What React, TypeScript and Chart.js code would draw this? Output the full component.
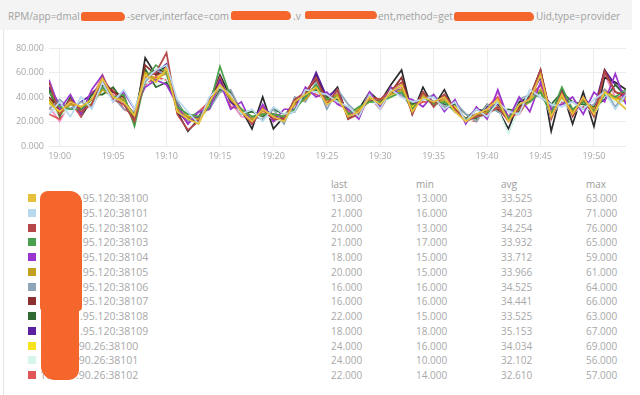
import React, { useEffect, useRef } from "react";
import { Chart, registerables } from "chart.js";
Chart.register(...registerables);

const timeLabels = ["18:59","19:00","19:01","19:02","19:03","19:04","19:05","19:06","19:07","19:08","19:09","19:10","19:11","19:12","19:13","19:14","19:15","19:16","19:17","19:18","19:19","19:20","19:21","19:22","19:23","19:24","19:25","19:26","19:27","19:28","19:29","19:30","19:31","19:32","19:33","19:34","19:35","19:36","19:37","19:38","19:39","19:40","19:41","19:42","19:43","19:44","19:45","19:46","19:47","19:48","19:49","19:50","19:51","19:52","19:53"];

const s1 = [35,28,36,32,38,55,40,36,25,58,52, 63,28,22,18,36,50,40,28,20,30,24, 20,36,42,48,34,40,24,28,40,34,44, 50,28,40,36,40,28,20,26,30,38,20, 34,38,58,24,42,26,40,26,44,38,30];
const s2 = [26,36,24,40,30,52,36,46,30,54,62, 66,38,28,18,40,48,42,26,30,20,32, 26,28,46,44,42,36,32,24,42,30,46, 40,36,38,40,30,36,20,30,24,36,28, 26,46,40,34,32,36,30,38,44,30,42];
const s3 = [52,26,38,28,34,56,38,34,20,56,60, 76,26,13,20,38,48,42,28,18,30,22, 22,38,44,56,34,46,22,26,40,38,46, 52,26,44,32,42,30,20,24,26,32,20, 30,40,62,22,44,24,40,24,60,44,42];
const s4 = [44,32,30,30,38,48,40,42,16,54,66, 60,32,26,24,32,65,40,30,24,26,26, 24,30,40,50,38,40,26,32,36,36,40, 44,30,40,34,36,28,22,24,26,36,22, 34,36,44,26,48,30,36,28,42,40,46];
const s5 = [54,30,42,26,46,58,36,44,30,48,54, 50,34,18,28,30,52,30,36,18,34,20, 30,30,48,40,44,34,30,22,44,32,48, 40,38,32,42,28,38,18,32,22,46,22, 40,28,52,30,34,40,26,44,36,59,34];
const s6 = [38,26,34,32,34,46,40,38,24,60,54, 60,30,24,22,32,50,38,30,22,26,26, 24,34,38,48,38,42,26,30,38,38,42, 46,30,42,34,38,30,22,24,28,32,24, 30,36,46,28,40,28,38,30,44,40,36];
const s7 = [30,38,30,36,32,48,40,30,28,52,62, 58,36,20,28,30,44,46,28,24,22,30, 18,40,36,52,30,46,34,26,44,32,48, 42,36,38,42,32,36,26,20,34,28,24, 38,42,40,32,34,36,30,34,46,32,44];
const s8 = [40,30,36,30,34,54,44,40,20,66,58, 62,32,22,20,38,52,38,28,22,30,24, 22,34,44,54,38,42,26,28,38,36,44, 56,28,44,34,42,30,22,26,28,30,24, 32,38,62,24,42,26,38,26,62,44,40];
const s9 = [46,24,40,26,42,42,48,36,26,63,48, 52,36,22,28,30,46,44,26,28,24,30, 26,28,44,46,40,38,30,26,42,32,44, 46,34,38,40,34,34,26,22,34,28,30, 28,42,44,34,44,36,34,32,38,50,40];
const s10 = [48,34,30,36,42,52,40,36,22,56,60, 67,28,20,24,36,54,36,28,22,30,26, 22,36,40,60,40,46,24,28,38,36,44, 50,28,42,36,40,30,22,24,32,34,22, 32,40,56,26,44,28,40,30,62,50,42];
const s11 = [36,28,36,30,34,48,40,38,24,60,54, 62,34,24,22,32,50,38,30,24,26,24, 24,34,38,48,36,40,26,30,36,38,40, 46,32,40,36,36,32,22,24,28,30,24, 32,38,44,28,40,28,36,30,42,38,38];
const s12 = [34,24,32,30,36,44,40,36,22,52,50, 56,28,22,20,32,48,36,28,20,26,22, 20,32,38,46,34,40,24,28,36,34,40, 44,28,40,32,36,28,20,22,26,30,10, 30,36,46,24,38,26,34,26,40,36,36];
const s13 = [26,22,36,24,44,48,46,30,26,50,56, 54,30,18,28,36,56,32,30,18,32,20, 24,30,46,42,38,36,28,24,40,30,44, 42,32,36,36,32,32,22,20,32,40,24, 26,40,50,30,36,30,32,30,46,38,44];
const s14 = [46,26,38,24,38,50,44,40,18,72,58, 66,28,12,22,36,58,40,30,14,40,14, 24,36,42,58,38,48,22,30,44,36,50, 62,26,48,32,46,28,22,30,28,30,14, 36,40,62,12,46,18,44,16,56,52,46];
const s15 = [32,20,36,30,38,56,42,36,26,56,54, 62,28,22,24,38,56,36,24,22,30,24, 22,34,40,50,34,42,24,28,40,36,44, 48,28,42,34,38,28,22,24,28,44,20, 34,38,58,26,40,28,38,28,58,40,40];
const s16 = [38,30,34,32,38,58,40,38,24,58,56, 64,30,24,22,36,50,38,30,22,28,26, 24,34,42,50,36,44,26,30,38,38,42, 48,30,42,34,40,30,22,24,28,32,22, 34,38,50,26,42,28,38,28,46,40,38];

const seriesValues = [s1, s2, s3, s4, s5, s6, s7, s8, s9, s10, s11, s12, s13, s14, s15, s16];
const seriesColors = ["#e6c13a","#b9d9ef","#b5484a","#4aa04c","#9a35d0","#bfa020","#8fa6b8","#8c2f2f","#2f6b32","#5b1fa0","#f6e31e","#d8f5ea","#e05555","#2a2a2a","#f090c0","#f0a050"];

const legendNames = [".95.120:38100",".95.120:38101",".95.120:38102",".95.120:38103",".95.120:38104",".95.120:38105",".95.120:38106",".95.120:38107",".95.120:38108",".95.120:38109",".90.26:38100",".90.26:38101",".90.26:38102"];
const legendLast = ["13.000","21.000","20.000","21.000","18.000","20.000","16.000","16.000","22.000","18.000","24.000","24.000","22.000"];
const legendMin = ["13.000","16.000","13.000","17.000","15.000","15.000","16.000","16.000","15.000","18.000","16.000","10.000","14.000"];
const legendAvg = ["33.525","34.203","34.254","33.932","33.712","33.966","34.525","34.441","33.525","35.153","34.034","32.102","32.610"];
const legendMax = ["63.000","71.000","76.000","65.000","59.000","61.000","64.000","66.000","63.000","67.000","69.000","56.000","57.000"];
const legendHeaders = ["last", "min", "avg", "max"];

const FONT = "'Open Sans', 'DejaVu Sans', sans-serif";

function toMinutes(t: string) {
  const [h, m] = t.split(":").map(Number);
  return (h - 19) * 60 + m;
}

function ChartPanel() {
  const ref = useRef<HTMLCanvasElement | null>(null);
  useEffect(() => {
    if (!ref.current) return;
    const xs = timeLabels.map(toMinutes);
    const chart = new Chart(ref.current, {
      type: "line",
      data: {
        datasets: seriesValues.map((vals, i) => ({
          data: vals.map((v, j) => ({ x: xs[j], y: v })),
          borderColor: seriesColors[i],
          backgroundColor: seriesColors[i],
          borderWidth: 1.7,
          pointRadius: 0,
          tension: 0,
          fill: false,
        })),
      },
      options: {
        animation: false,
        responsive: false,
        devicePixelRatio: 1,
        layout: { padding: { top: 13, right: 14, bottom: 0, left: 0 } },
        plugins: { legend: { display: false }, tooltip: { enabled: false } },
        scales: {
          x: {
            type: "linear",
            min: xs[0],
            max: xs[xs.length - 1],
            border: { display: false },
            grid: { color: "#ececec", drawTicks: false, lineWidth: 1 },
            ticks: {
              stepSize: 5,
              includeBounds: false,
              padding: 5,
              maxRotation: 0,
              color: "#a8a8a8",
              font: { family: FONT, size: 9 },
              callback: (v: any) => {
                const m = Number(v);
                return "19:" + String(m).padStart(2, "0");
              },
            },
            afterFit: (s: any) => { s.height = 19; },
          },
          y: {
            min: 0,
            max: 80,
            border: { display: false },
            grid: { color: "#ececec", drawTicks: false, lineWidth: 1 },
            ticks: {
              stepSize: 20,
              padding: 5,
              color: "#a8a8a8",
              font: { family: FONT, size: 9 },
              callback: (v: any) => Number(v).toFixed(3),
            },
            afterFit: (s: any) => { s.width = 49; },
          },
        },
      },
    } as any);
    return () => chart.destroy();
  }, []);
  return <canvas ref={ref} width={640} height={130} style={{ position: "absolute", left: 0, top: 35, width: 640, height: 130 }} />;
}

const ORANGE = "#f4662b";

function Bar({ x, w, y = 12, h = 9 }: { x: number; w: number; y?: number; h?: number }) {
  return <div style={{ position: "absolute", left: x, top: y, width: w, height: h, background: ORANGE, borderRadius: "3px 5px 4px 2px" }} />;
}

const titleText: React.CSSProperties = { position: "absolute", top: 9, fontFamily: FONT, fontSize: 10, color: "#a0a0a0", whiteSpace: "nowrap", lineHeight: "14px" };

export default function App() {
  const rowY = (i: number) => 198.3 + 14.72 * i;
  const colX = [331, 416, 501, 586];
  const cols = [legendLast, legendMin, legendAvg, legendMax];
  const cell: React.CSSProperties = { position: "absolute", fontFamily: FONT, fontSize: 10, color: "#a8a8a8", whiteSpace: "nowrap", lineHeight: "14px" };
  return (
    <div style={{ position: "fixed", left: 0, top: 0, width: 640, height: 395, background: "#fff", overflow: "hidden" }}>
      <div style={{ position: "absolute", left: 0, top: 0, width: 632, height: 30, background: "#f4f4f4" }} />
      <div style={{ position: "absolute", left: 3, top: 30, width: 1, height: 365, background: "#e4e4e4" }} />
      <div style={{ ...titleText, left: 8 }}>RPM/app=dmal</div>
      <Bar x={81} w={44} />
      <div style={{ ...titleText, left: 127 }}>-server,interface=com</div>
      <Bar x={231} w={60} y={11} />
      <div style={{ ...titleText, left: 293 }}>.v</div>
      <Bar x={305} w={72} y={11} h={8} />
      <div style={{ ...titleText, left: 378 }}>ent,method=get</div>
      <Bar x={454} w={80} y={12} h={9} />
      <div style={{ ...titleText, left: 536 }}>Uid,type=provider</div>

      <ChartPanel />

      {legendHeaders.map((h, c) => (
        <div key={h} style={{ ...cell, left: colX[c], top: 184 - 7, color: "#9c9c9c" }}>{h}</div>
      ))}
      {legendNames.map((name, i) => (
        <React.Fragment key={name + i}>
          <div style={{ position: "absolute", left: 28, top: rowY(i) - 4, width: 8, height: 8, background: seriesColors[i] }} />
          <div style={{ ...cell, fontSize: 10.5, left: 40, top: rowY(i) - 7 }}>10.248</div>
          <div style={{ ...cell, fontSize: 10.5, left: name.startsWith(".90") ? 76 : 80, top: rowY(i) - 7 }}>{name}</div>
          {cols.map((col, c) => (
            <div key={c} style={{ ...cell, left: colX[c], top: rowY(i) - 7 }}>{col[i]}</div>
          ))}
        </React.Fragment>
      ))}
      <div style={{ position: "absolute", left: 40, top: 191, width: 42, height: 120, background: ORANGE, borderRadius: "8px 12px 4px 4px" }} />
      <div style={{ position: "absolute", left: 41, top: 300, width: 38, height: 80, background: ORANGE, borderRadius: "4px 4px 10px 14px" }} />
    </div>
  );
}
